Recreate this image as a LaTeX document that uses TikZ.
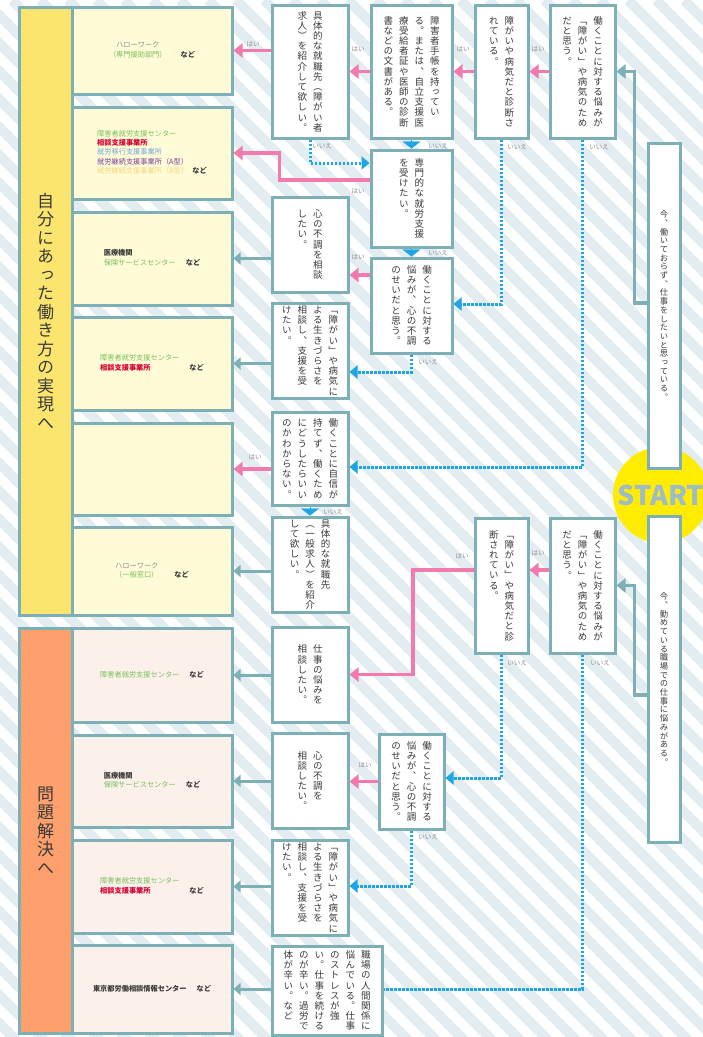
\documentclass[tikz,border=0pt]{standalone}
\usepackage{fontspec}
\setmainfont{Noto Sans CJK JP}
\newfontfamily\tatefont{Noto Sans CJK JP}[RawFeature=+vert]
\usetikzlibrary{arrows.meta}
\usepackage{xcolor}
\definecolor{frame}{HTML}{7DAFB6}
\definecolor{stripecol}{HTML}{E3EDF1}
\definecolor{goalyellow}{HTML}{FCE56E}
\definecolor{goalorange}{HTML}{FDA06E}
\definecolor{cream}{HTML}{FFFBD7}
\definecolor{blush}{HTML}{FCF0EA}
\definecolor{pinkflow}{HTML}{F27AAC}
\definecolor{skyflow}{HTML}{1EA5E2}
\definecolor{ink}{HTML}{3A3A3A}
\definecolor{answergrey}{HTML}{8C8C8C}
\definecolor{startyellow}{HTML}{FFEC00}
\definecolor{startblue}{HTML}{9CBBCB}
\definecolor{orggreen}{HTML}{79BF5E}
\definecolor{orgred}{HTML}{D50032}
\definecolor{orgblue}{HTML}{6EA6DA}
\definecolor{orgpurple}{HTML}{7B3F9A}
\definecolor{orgyellow}{HTML}{F6D57E}
\definecolor{orggrey}{HTML}{8E8E8E}

% vertical (tategaki) text: columns split by /, first column on the right
\newlength\tatepitch
\newlength\tatewd
\newlength\tategap
\setlength\tatepitch{10.2pt}
\setlength\tatewd{10pt}
\setlength\tategap{5.5pt}
\newbox\tatebox
\let\tatestop\relax
\def\tatestopmark{\tatestop}
\def\tateend{TATEEND}
\def\tateloop#1{\ifx#1\tateend\else\hbox to\tatewd{\hss#1\hss}\expandafter\tateloop\fi}
\def\tatecol#1{\vtop{\baselineskip\tatepitch\lineskiplimit-\maxdimen\lineskip0pt\relax\tateloop#1\tateend}}
\def\tatesplit#1/{\def\tatearg{#1}\ifx\tatearg\tatestopmark\else\setbox\tatebox\hbox{\tatecol{#1}\hskip\tategap\unhbox\tatebox}\expandafter\tatesplit\fi}
\def\tate#1{\setbox\tatebox\hbox{}\tatesplit#1/\tatestop/\hbox{\unhbox\tatebox\unskip}}

\begin{document}
\begin{tikzpicture}[x=1pt, y=-1pt,
    bgstripe/.style={draw=stripecol, line width=10pt},
    qbox/.style={
      draw=frame, line width=3pt, fill=white, inner sep=0pt, text=ink,
      font=\tatefont\fontsize{9.5}{10}\selectfont,
      execute at begin node={\setlength\tatepitch{10.2pt}\setlength\tatewd{10pt}\setlength\tategap{5.5pt}}
    },
    startbox/.style={
      qbox, minimum width=32pt, font=\tatefont\fontsize{8.3}{9}\selectfont,
      execute at begin node={\setlength\tatepitch{8.7pt}\setlength\tatewd{8.5pt}}
    },
    goalbox/.style={
      draw=frame, line width=3pt, inner sep=0pt, text=ink, minimum width=53pt,
      font=\tatefont\fontsize{17}{18}\selectfont,
      execute at begin node={\setlength\tatepitch{18.5pt}\setlength\tatewd{18pt}}
    },
    resbox/.style={
      draw=frame, line width=3pt, inner sep=0pt, minimum width=160pt,
      text=ink, font=\fontsize{7.2}{9.3}\selectfont
    },
    startdot/.style={
      circle, fill=startyellow, minimum size=96pt, inner sep=0pt,
      text=startblue, font=\bfseries\fontsize{27}{27}\selectfont
    },
    answer/.style={inner sep=0pt, text=answergrey, font=\fontsize{6.5}{7}\selectfont},
    yesflow/.style={draw=pinkflow, line width=3.5pt, -{Triangle[length=9pt,width=14pt]}},
    noflow/.style={draw=skyflow, line width=3pt, dash pattern=on 2.6pt off 1.4pt, -{Triangle[length=8pt,width=13pt]}},
    notri/.style={draw=skyflow, line width=0.3pt, -{Triangle[length=7pt,width=18pt]}},
    link/.style={draw=frame, line width=3pt, -{Triangle[length=7pt,width=12pt]}},
    startlink/.style={draw=frame, line width=3.5pt, -{Triangle[length=9pt,width=14pt]}}
  ]
  \useasboundingbox (0,0) rectangle (703,1037);
  \clip (0,0) rectangle (703,1037);
  % striped background
  \fill[white] (0,0) rectangle (703,1037);
  \foreach \s in {-1080,-1052,...,700}
    \draw[bgstripe] (\s,0) -- ++(1100,1100);

  \node[startdot] (go) at (661,495) {START};

  % goals
  \node[goalbox, fill=goalyellow, minimum height=608pt] (goal1) at (45.5,311) {\tate{自分にあった働き方の実現へ}};
  \node[goalbox, fill=goalorange, minimum height=405pt] (goal2) at (45.5,830.5) {\tate{問題解決へ}};

  % places to go
  \node[resbox, fill=cream, minimum height=87pt] (r1) at (152,50.5)
    {\begin{tabular}[b]{@{}c@{}}\color{orggrey}ハローワーク\\\color{orggreen}（専門援助部門）\end{tabular}\hspace{14pt}\textbf{など}};
  \node[resbox, fill=cream, minimum height=92pt] (r2) at (152,153)
    {\begin{tabular}[b]{@{}l@{}}\color{orggreen}障害者就労支援センター\\\color{orgred}\bfseries 相談支援事業所\\\color{orgblue}就労移行支援事業所\\\color{orgpurple}就労継続支援事業所（A型）\\\color{orgyellow}就労継続支援事業所（B型）\end{tabular}\hspace{4pt}\textbf{など}};
  \node[resbox, fill=cream, minimum height=93pt] (r3) at (152,258.5)
    {\begin{tabular}[b]{@{}l@{}}\bfseries 医療機関\\\color{orggreen}保険サービスセンター\end{tabular}\hspace{10pt}\textbf{など}};
  \node[resbox, fill=cream, minimum height=93pt] (r4) at (152,363.5)
    {\begin{tabular}[b]{@{}l@{}}\color{orggreen}障害者就労支援センター\\\color{orgred}\bfseries 相談支援事業所\end{tabular}\hspace{10pt}\textbf{など}};
  \node[resbox, fill=cream, minimum height=92pt] (r5) at (152,469) {};
  \node[resbox, fill=cream, minimum height=88pt] (r6) at (152,571)
    {\begin{tabular}[b]{@{}c@{}}\color{orggrey}ハローワーク\\\color{orggreen}（一般窓口）\end{tabular}\hspace{16pt}\textbf{など}};
  \node[resbox, fill=blush, minimum height=94pt] (r7) at (152,675)
    {\color{orggreen}障害者就労支援センター\hspace{10pt}\color{ink}\textbf{など}};
  \node[resbox, fill=blush, minimum height=92pt] (r8) at (152,781)
    {\begin{tabular}[b]{@{}l@{}}\bfseries 医療機関\\\color{orggreen}保険サービスセンター\end{tabular}\hspace{10pt}\textbf{など}};
  \node[resbox, fill=blush, minimum height=93pt] (r9) at (152,886.5)
    {\begin{tabular}[b]{@{}l@{}}\color{orggreen}障害者就労支援センター\\\color{orgred}\bfseries 相談支援事業所\end{tabular}\hspace{10pt}\textbf{など}};
  \node[resbox, fill=blush, minimum height=88pt] (r10) at (152,989)
    {\textbf{東京都労働相談情報センター}\hspace{10pt}\textbf{など}};

  % questions, upper chart
  \node[startbox, minimum height=325pt] (s1) at (664,305.5) {\tate{今、働いておらず、仕事をしたいと思っている。}};
  \node[qbox, minimum width=65pt, minimum height=133pt] (q1) at (582.5,71.5) {\tate{働くことに対する悩みが/「障がい」や病気のため/だと思う。}};
  \node[qbox, minimum width=53pt, minimum height=133pt] (q2) at (501.5,71.5) {\tate{障がいや病気だと診断さ/れている。}};
  \node[qbox, minimum width=81pt, minimum height=133pt] (q3) at (411.5,71.5) {\tate{障害者手帳を持ってい/る。または、自立支援医/療受給者証や医師の診断/書などの文書がある。}};
  \node[qbox, minimum width=76pt, minimum height=133pt] (q4) at (310,71.5) {\tate{具体的な就職先（障がい者/求人）を紹介して欲しい。}};
  \node[qbox, minimum width=81pt, minimum height=97pt] (q5) at (411.5,198.5) {\tate{専門的な就労支援/を受けたい。}};
  \node[qbox, minimum width=76pt, minimum height=95pt] (q6) at (310,244.5) {\tate{心の不調を相談/したい。}};
  \node[qbox, minimum width=81pt, minimum height=95pt] (q7) at (411.5,305.5) {\tate{働くことに対する/悩みが、心の不調/のせいだと思う。}};
  \node[qbox, minimum width=76pt, minimum height=95pt] (q8) at (310,350.5) {\tate{「障がい」や病気に/よる生きづらさを/相談し、支援を受/けたい。}};
  \node[qbox, minimum width=76pt, minimum height=93pt] (q9) at (310,458.5) {\tate{働くことに自信が/持てず、働くため/にどうしたらいい/のかわからない。}};
  \node[qbox, minimum width=76pt, minimum height=95pt] (q10) at (310,564.5) {\tate{具体的な就職先/（一般求人）を紹介/して欲しい。}};

  % questions, lower chart
  \node[startbox, minimum height=326pt] (s2) at (664,679) {\tate{今、勤めている職場での仕事に悩みがある。}};
  \node[qbox, minimum width=65pt, minimum height=135pt] (q11) at (582.5,585.5) {\tate{働くことに対する悩みが/「障がい」や病気のため/だと思う。}};
  \node[qbox, minimum width=53pt, minimum height=135pt] (q12) at (501.5,585.5) {\tate{「障がい」や病気だと診/断されている。}};
  \node[qbox, minimum width=76pt, minimum height=95pt] (q13) at (310,674.5) {\tate{仕事の悩みを/相談したい。}};
  \node[qbox, minimum width=76pt, minimum height=95pt] (q14) at (310,780.5) {\tate{心の不調を/相談したい。}};
  \node[qbox, minimum width=65pt, minimum height=95pt] (q15) at (411.5,781.5) {\tate{働くことに対する/悩みが、心の不調/のせいだと思う。}};
  \node[qbox, minimum width=76pt, minimum height=95pt] (q16) at (310,887.5) {\tate{「障がい」や病気に/よる生きづらさを/相談し、支援を受/けたい。}};
  \node[qbox, minimum width=110pt, minimum height=89pt] (q17) at (327,990.5) {\tate{職場の人間関係に/悩んでいる。仕事/のストレスが強/い。仕事を続ける/のが辛い。過労で/体が辛い。など}};

  % from START
  \draw[startlink] (s1.west |- 0,303) -| ([xshift=18pt]q1.east) -- (q1.east);
  \draw[startlink] (s2.west |- 0,695) -| ([xshift=18pt]q11.east) -- (q11.east);

  % yes
  \draw[yesflow] (q1) -- (q2);
  \draw[yesflow] (q2) -- (q3);
  \draw[yesflow] (q3) -- (q4);
  \draw[yesflow] (q4.west |- r1.east) -- (r1.east);
  \draw[yesflow] ([yshift=18.5pt]q5.west) -| ([xshift=46pt]r2.east) -- (r2.east);
  \draw[yesflow] (q7.west |- 0,275) -- (q6.east |- 0,275);
  \draw[yesflow] (q9.west |- r5.east) -- (r5.east);
  \draw[yesflow] (q11.west |- 0,570) -- (q12.east |- 0,570);
  \draw[yesflow] (q12.west |- 0,570) -| ([xshift=63.5pt]q13.east) -- (q13.east);
  \draw[yesflow] (q15.west) -- (q14.east |- q15.west);

  % no
  \draw[notri] (q3) -- (q5);
  \draw[notri] (q5) -- (q7);
  \draw[notri] (q9) -- (q10);
  \draw[noflow] (q4.south) |- (q5.west |- 0,163);
  \draw[noflow] (q2.south) |- (q7.east |- 0,304);
  \draw[noflow] (q1.south) |- (q9.east |- 0,467);
  \draw[noflow] (q7.south) |- (q8.east |- 0,372);
  \draw[noflow] (q12.south) |- (q15.east |- 0,778);
  \draw[noflow] (q15.south) |- (q16.east |- 0,886);
  \draw[noflow, -] (q11.south) |- (q17.east |- 0,989);

  % to the places
  \draw[link] (q6.west |- r3.east) -- (r3.east);
  \draw[link] (q8.west |- r4.east) -- (r4.east);
  \draw[link] (q10.west |- r6.east) -- (r6.east);
  \draw[link] (q13.west |- r7.east) -- (r7.east);
  \draw[link] (q14.west |- r8.east) -- (r8.east);
  \draw[link] (q16.west |- r9.east) -- (r9.east);
  \draw[link] (q17.west |- r10.east) -- (r10.east);

  % answers
  \node[answer] (y1) at (538,49) {はい};
  \node[answer] (y2) at (463,49) {はい};
  \node[answer] (y3) at (358,49) {はい};
  \node[answer] (y4) at (253,44) {はい};
  \node[answer] (y5) at (358,191) {はい};
  \node[answer] (y7) at (358,257) {はい};
  \node[answer] (y9) at (255,457) {はい};
  \node[answer] (y11) at (538,553) {はい};
  \node[answer] (y12) at (462,556) {はい};
  \node[answer] (y15) at (365,765) {はい};
  \node[answer] (n1) at (599,147) {いいえ};
  \node[answer] (n2) at (517,147) {いいえ};
  \node[answer] (n3) at (438,146) {いいえ};
  \node[answer] (n4) at (322,146) {いいえ};
  \node[answer] (n5) at (438,253) {いいえ};
  \node[answer] (n7) at (428,362) {いいえ};
  \node[answer] (n9) at (333,512) {いいえ};
  \node[answer] (n11) at (600,663) {いいえ};
  \node[answer] (n12) at (517,663) {いいえ};
  \node[answer] (n15) at (428,837) {いいえ};
\end{tikzpicture}
\end{document}
